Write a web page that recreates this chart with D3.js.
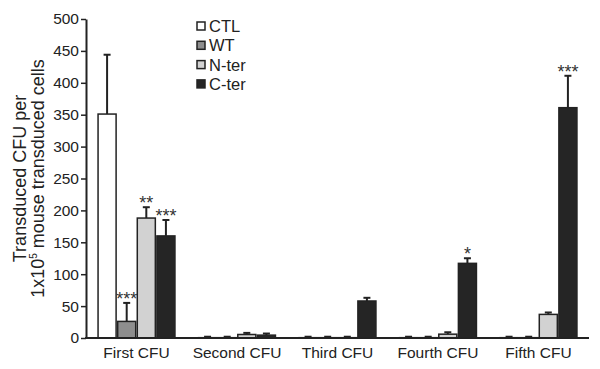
<!DOCTYPE html>
<html>
<head>
<meta charset="utf-8">
<script src="https://cdn.jsdelivr.net/npm/d3@7"></script>
<style>
  body { margin: 0; background: #fff; }
  text { font-family: Arial, "Liberation Sans", sans-serif; fill: #222; }
</style>
</head>
<body>
<svg id="canvas"></svg>
<script>
const groups = ["First CFU", "Second CFU", "Third CFU", "Fourth CFU", "Fifth CFU"];
const seriesNames = ["CTL", "WT", "N-ter", "C-ter"];
const ctl = [351, 0.5, 0.5, 0.5, 0.5];
const ctlErr = [93, 1.5, 1.5, 1.5, 1.5];
const wt = [26, 0.5, 0.5, 0.5, 0.5];
const wtErr = [29, 1.5, 1.5, 1.5, 1.5];
const nter = [188, 5.5, 0.5, 6, 37];
const nterErr = [17, 2.5, 1.5, 3, 3];
const cter = [160, 4.5, 58, 117, 361];
const cterErr = [25, 2.5, 5, 8, 50];
const stars = [["", "***", "**", "***"], ["", "", "", ""], ["", "", "", ""], ["", "", "", "*"], ["", "", "", "***"]];
const yTicks = [0, 50, 100, 150, 200, 250, 300, 350, 400, 450, 500];
const colors = ["#ffffff", "#8e8e8e", "#d2d2d2", "#252525"];

const values = [ctl, wt, nter, cter];
const errors = [ctlErr, wtErr, nterErr, cterErr];
const data = groups.map((g, i) => ({
    group: g,
    bars: seriesNames.map((s, j) => ({ series: s, value: values[j][i], err: errors[j][i], star: stars[i][j] }))
}));

const width = 600;
const height = 369;
const margin = { top: 19, right: 11, bottom: 31, left: 86 };
const innerWidth = width - margin.left - margin.right;
const innerHeight = height - margin.top - margin.bottom;

const svg = d3.select("#canvas").attr("width", width).attr("height", height);
const main = svg.append("g").attr("transform", `translate(${margin.left}, ${margin.top})`);

const scaleX = d3.scaleBand().domain(groups).range([0, innerWidth]).paddingInner(0.235).paddingOuter(0.12);
const scaleX1 = d3.scaleBand().domain(seriesNames).range([0, scaleX.bandwidth()]).paddingInner(0.08);
const scaleY = d3.scaleLinear().domain([0, 500]).range([innerHeight, 0]);
const color = d3.scaleOrdinal().domain(seriesNames).range(colors);

const groupSel = main.selectAll("g.group").data(data).join("g")
    .classed("group", true)
    .attr("transform", d => `translate(${scaleX(d.group)}, 0)`);

const barSel = groupSel.selectAll("g.bar").data(d => d.bars).join("g").classed("bar", true);

// error bars (upper only)
barSel.append("line")
    .attr("x1", d => scaleX1(d.series) + scaleX1.bandwidth() / 2)
    .attr("x2", d => scaleX1(d.series) + scaleX1.bandwidth() / 2)
    .attr("y1", d => scaleY(d.value))
    .attr("y2", d => scaleY(d.value + d.err))
    .attr("stroke", "#222").attr("stroke-width", 2);
barSel.append("line")
    .attr("x1", d => scaleX1(d.series) + scaleX1.bandwidth() / 2 - 3.5)
    .attr("x2", d => scaleX1(d.series) + scaleX1.bandwidth() / 2 + 3.5)
    .attr("y1", d => scaleY(d.value + d.err))
    .attr("y2", d => scaleY(d.value + d.err))
    .attr("stroke", "#222").attr("stroke-width", 2);

barSel.append("rect")
    .attr("x", d => scaleX1(d.series))
    .attr("width", scaleX1.bandwidth())
    .attr("y", d => scaleY(d.value))
    .attr("height", d => scaleY(0) - scaleY(d.value))
    .attr("fill", d => color(d.series))
    .attr("stroke", "#222").attr("stroke-width", 1.5);

barSel.filter(d => d.star).append("text")
    .attr("x", d => scaleX1(d.series) + scaleX1.bandwidth() / 2)
    .attr("y", d => scaleY(d.value + d.err) + 2)
    .attr("text-anchor", "middle")
    .attr("font-size", 18)
    .style("fill", "#333")
    .text(d => d.star);

// axes
const axisY = main.append("g").call(d3.axisLeft(scaleY).tickValues(yTicks).tickSize(5).tickSizeOuter(0));
axisY.select(".domain").attr("stroke", "#222").attr("stroke-width", 2);
axisY.selectAll(".tick line").attr("stroke", "#222").attr("stroke-width", 1.5);
axisY.selectAll(".tick text").attr("font-size", 15.5).attr("x", -7).style("fill", "#222");

const axisX = main.append("g").attr("transform", `translate(0, ${innerHeight})`)
    .call(d3.axisBottom(scaleX).tickSize(0).tickSizeOuter(0));
axisX.select(".domain").attr("stroke", "#222").attr("stroke-width", 2).attr("d", `M-1,0H${innerWidth}`);
axisX.selectAll(".tick text").attr("font-size", 15.5).attr("dy", "1.1em").style("fill", "#222");

// y title, two lines
const titleX = 26;
const titleY = margin.top + innerHeight / 2;
svg.append("text")
    .attr("transform", `translate(${titleX}, ${titleY}) rotate(-90)`)
    .attr("text-anchor", "middle")
    .attr("font-size", 18)
    .text("Transduced CFU per");
const line2 = svg.append("text")
    .attr("transform", `translate(${titleX + 18}, ${titleY}) rotate(-90)`)
    .attr("text-anchor", "middle")
    .attr("font-size", 18);
line2.append("tspan").text("1x10");
line2.append("tspan").attr("font-size", 10).attr("dy", -7).text("5");
line2.append("tspan").attr("dy", 7).text(" mouse transduced cells");

// legend
const legend = svg.append("g").attr("transform", "translate(197, 22)");
const item = legend.selectAll("g").data(seriesNames).join("g")
    .attr("transform", (d, i) => `translate(0, ${i * 19.3})`);
item.append("rect").attr("width", 8).attr("height", 8)
    .attr("fill", d => color(d)).attr("stroke", "#222").attr("stroke-width", 1.5);
item.append("text").attr("x", 12).attr("y", 4).attr("dy", "0.36em")
    .attr("font-size", 16.5).text(d => d);
</script>
</body>
</html>
